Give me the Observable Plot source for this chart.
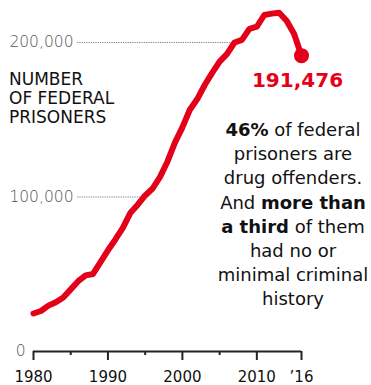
<!DOCTYPE html>
<html>
<head>
<meta charset="utf-8">
<script src="https://cdn.jsdelivr.net/npm/d3@7"></script>
<script src="https://cdn.jsdelivr.net/npm/@observablehq/plot@0.6"></script>
<style>
  html, body { margin: 0; padding: 0; background: #fff; }
  #wrap { position: relative; width: 371px; height: 385px; overflow: hidden; font-family: "DejaVu Sans", sans-serif; }
  #title { position: absolute; left: 9px; top: 70px; font-size: 17px; line-height: 19px; color: #111; }
  #note { position: absolute; left: 213px; width: 160px; top: 118px; font-size: 18px; line-height: 24.2px; color: #111; text-align: center; }
  #note b { font-weight: bold; }
</style>
</head>
<body>
<div id="wrap">
  <div id="chart"></div>
  <div id="title">NUMBER<br>OF FEDERAL<br>PRISONERS</div>
  <div id="note"><b>46%</b> of federal<br>prisoners are<br>drug offenders.<br>And <b>more than</b><br><b>a third</b> of them<br>had no or<br>minimal criminal<br>history</div>
</div>
<script>
const years = [1980,1981,1982,1983,1984,1985,1986,1987,1988,1989,1990,1991,1992,1993,1994,1995,1996,1997,1998,1999,2000,2001,2002,2003,2004,2005,2006,2007,2008,2009,2010,2011,2012,2013,2014,2015,2016];
const prisoners = [24600,26200,29700,31900,35000,40200,45500,49300,50200,57800,65500,72500,80000,89600,95000,101000,105500,113000,123000,135200,145100,156500,163400,172500,180300,187600,192600,200000,201700,208800,210200,217800,218700,219300,214100,205700,191476];
const gridValues = [100000, 200000];
const zeroLabel = [0];
const majorTicks = [1980, 1990, 2000, 2010, 2016];
const minorTicks = [1985, 1995, 2005];
const tickLabels = ["1980", "1990", "2000", "2010", "\u201916"];

const RED = "#e50019";
const data = years.map((y, i) => ({year: y, value: prisoners[i]}));
const last = data[data.length - 1];

// year where the series first reaches v (for the leader lines)
function crossing(v) {
  for (let i = 1; i < data.length; i++) {
    const a = data[i - 1], b = data[i];
    if (a.value < v && b.value >= v) return a.year + (v - a.value) / (b.value - a.value);
  }
  return years[years.length - 1];
}

const chart = Plot.plot({
  width: 371,
  height: 385,
  marginLeft: 33,
  marginRight: 70,
  marginTop: 42,
  marginBottom: 34,
  x: {domain: [years[0], years[years.length - 1]], axis: null},
  y: {domain: [0, 200000], axis: null},
  style: {fontFamily: "DejaVu Sans, sans-serif", background: "transparent", overflow: "visible"},
  marks: [
    Plot.ruleY(gridValues, {y: d => d, x1: () => years[0], x2: d => crossing(d), insetLeft: 44, stroke: "#888", strokeWidth: 1.2, strokeDasharray: "1.3,1"}),
    Plot.text(gridValues, {y: d => d, frameAnchor: "left", text: d => d3.format(",")(d), textAnchor: "end", dx: 40, fontSize: 15.5, fontWeight: 200, fill: "#555"}),
    Plot.text(zeroLabel, {y: d => d, frameAnchor: "left", text: d => String(d), textAnchor: "end", dx: -8, fontSize: 15.5, fontWeight: 200, fill: "#555"}),
    Plot.ruleY([0], {stroke: "#222", strokeWidth: 2}),
    Plot.axisX(majorTicks, {label: null, tickSize: 9, tickPadding: 11, strokeWidth: 2, stroke: "#222", fill: "#111", fontSize: 15, tickFormat: d => tickLabels[majorTicks.indexOf(d)]}),
    Plot.axisX(minorTicks, {label: null, tickSize: 4, strokeWidth: 2, stroke: "#222", text: null}),
    Plot.line(data, {x: "year", y: "value", stroke: RED, strokeWidth: 6, strokeLinejoin: "round", strokeLinecap: "round"}),
    Plot.dot([last], {x: "year", y: "value", r: 7.5, fill: RED}),
    Plot.text([last], {x: "year", y: "value", text: d => d3.format(",")(d.value), dy: 25, dx: -4, fontSize: 20, fontWeight: "bold", fill: RED})
  ]
});
document.getElementById("chart").appendChild(chart);
</script>
</body>
</html>
